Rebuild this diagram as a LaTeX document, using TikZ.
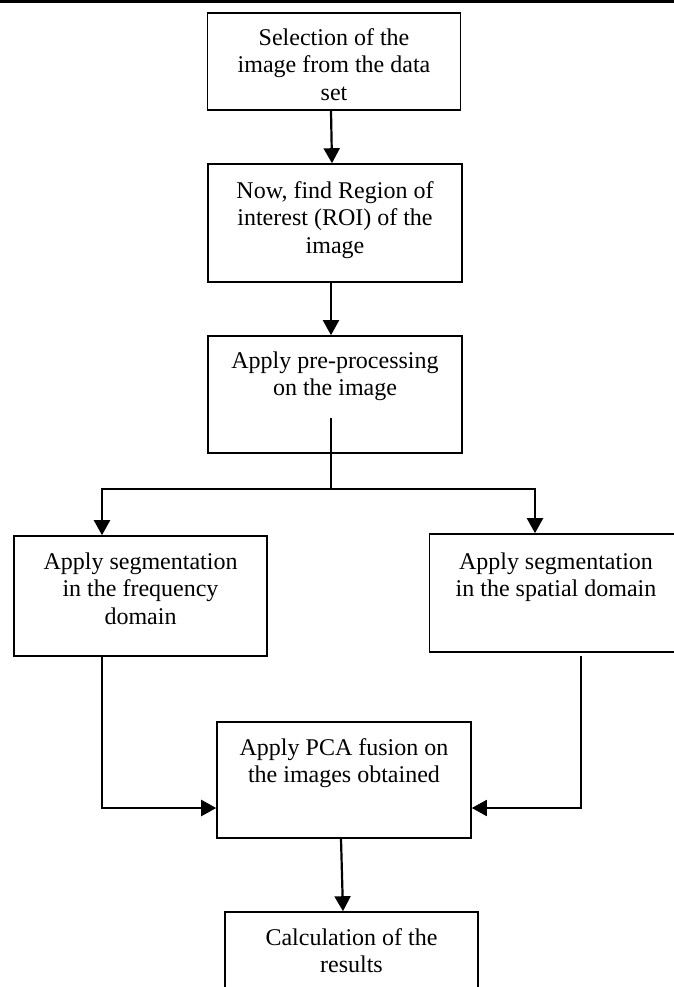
\documentclass[tikz,border=0pt]{standalone}
\usepackage{fontspec}
\setmainfont{Liberation Serif}
\usetikzlibrary{arrows.meta}

\begin{document}
\begin{tikzpicture}[
  x=0.5pt, y=-0.5pt,
  box/.style={rectangle, draw, line width=0.8pt, inner sep=0pt,
              minimum width=126.5pt, anchor=base, align=center,
              font=\fontsize{12}{13.8}\selectfont},
  arrow/.style={-{Triangle[length=7.5pt, width=8pt]}, line width=1.1pt},
  link/.style={line width=0.6pt}
]
\useasboundingbox (0,0) rectangle (674,987);
\draw[line width=1.65pt] (0,1.65) -- (674,1.65);

\node[box, text height=43.6pt, text depth=4.9pt] (select) at (334,100.2) {Selection of the\\image from the data\\set};
\node[box, text height=44.6pt, text depth=14.4pt, minimum width=127pt] (roi) at (335,253.2) {Now, find Region of\\interest (ROI) of the\\image};
\node[box, text height=29.8pt, text depth=28.7pt, minimum width=127pt] (prep) at (335,395.6) {Apply pre-processing\\on the image};
\node[box, text height=44.1pt, text depth=15.9pt] (freq) at (140.5,624.2) {Apply segmentation\\in the frequency\\domain};
\node[box, text height=31.3pt, text depth=27.7pt] (spat) at (556,596.6) {Apply segmentation\\in the spatial domain};
\node[box, text height=30.3pt, text depth=27.7pt, minimum width=127pt] (fusion) at (344,782.6) {Apply PCA fusion on\\the images obtained};
\node[box, text height=30.3pt, text depth=18.7pt] (calc) at (351.5,972.6) {Calculation of the\\results};

\coordinate (split) at (331,489);
\draw[arrow] ([xshift=-1.5pt]select.south) -- ([xshift=-1.5pt]roi.north);
\draw[arrow] ([xshift=-2pt]roi.south) -- ([xshift=-2pt]prep.north);
\draw[link] ([xshift=-2pt, yshift=18pt]prep.south) -- (split);
\draw[arrow] (split) -| ([xshift=-19.25pt]freq.north);
\draw[arrow] (split) -| ([xshift=-10.5pt]spat.north);
\draw[arrow] ([xshift=-19.25pt]freq.south) |- ([yshift=-14pt]fusion.west);
\draw[arrow, line width=0.9pt] ([xshift=12.5pt, yshift=-1.5pt]spat.south) |- ([yshift=-14pt]fusion.east);
\draw[arrow] ([xshift=-1.5pt]fusion.south) -- ([xshift=-4.25pt]calc.north);

\end{tikzpicture}
\end{document}
